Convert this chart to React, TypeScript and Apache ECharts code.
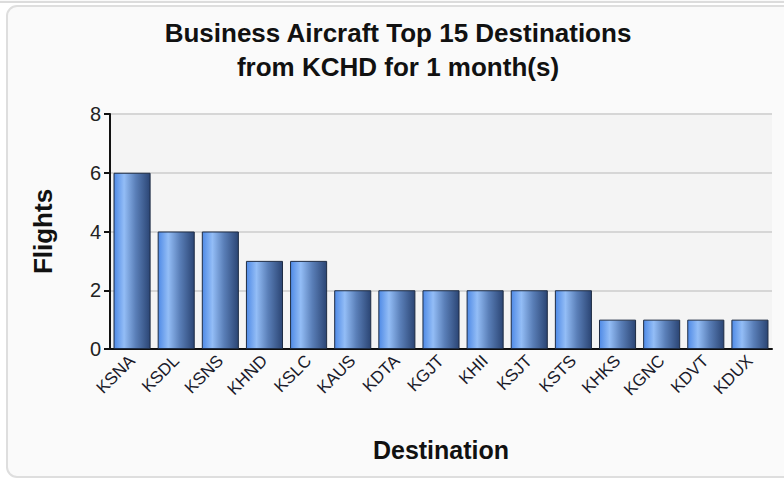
import React, { useEffect, useRef } from "react";
import * as echarts from "echarts";

const categories = ["KSNA", "KSDL", "KSNS", "KHND", "KSLC", "KAUS", "KDTA", "KGJT", "KHII", "KSJT", "KSTS", "KHKS", "KGNC", "KDVT", "KDUX"];
const flights = [6, 4, 4, 3, 3, 2, 2, 2, 2, 2, 2, 1, 1, 1, 1];
const yTicks = [0, 2, 4, 6, 8];

const titleLines = ["Business Aircraft Top 15 Destinations", "from KCHD for 1 month(s)"];
const FONT = "'Liberation Sans Narrow', 'Arial Narrow', 'Liberation Sans', Arial, sans-serif";

export default function App() {
  const ref = useRef<HTMLDivElement>(null);
  useEffect(() => {
    if (!ref.current) return;
    const chart = echarts.init(ref.current, undefined, { renderer: "svg" });
    const barGrad = new echarts.graphic.LinearGradient(0, 0, 1, 0, [
      { offset: 0, color: "#4f8ae6" },
      { offset: 0.28, color: "#93bdf6" },
      { offset: 0.6, color: "#5a7fb8" },
      { offset: 1, color: "#2b4574" },
    ]);
    chart.setOption({
      animation: false,
      backgroundColor: "#ffffff",
      graphic: [
        { type: "rect", z: -10, shape: { x: -10, y: -30, width: 820, height: 32, r: 8 }, style: { fill: "#fafafa", stroke: "#dcdcdc", lineWidth: 2 } },
        { type: "rect", z: -10, shape: { x: 7, y: 6, width: 820, height: 471, r: 10 }, style: { fill: "#fafafa", stroke: "#dedede", lineWidth: 2 } },
        { type: "text", x: 398, y: 16, style: { text: titleLines.join("\n"), font: `bold 26px ${FONT}`, fill: "#111", textAlign: "center", lineHeight: 34 } },
      ],
      grid: { left: 110, right: 12, top: 114, bottom: 132, show: true, backgroundColor: "#f4f4f4", borderWidth: 0 },
      xAxis: {
        type: "category",
        data: categories,
        name: "Destination",
        nameLocation: "middle",
        nameGap: 88,
        nameTextStyle: { fontFamily: FONT, fontWeight: "bold", fontSize: 25, color: "#111" },
        axisLine: { lineStyle: { color: "#111", width: 2 } },
        axisTick: { alignWithLabel: true, length: 6, lineStyle: { color: "#111", width: 2 } },
        axisLabel: { rotate: 45, fontFamily: FONT, fontSize: 17, color: "#1a1a2a", margin: 9, interval: 0 },
      },
      yAxis: {
        type: "value",
        min: 0,
        max: 8,
        interval: 2,
        name: "Flights",
        nameLocation: "middle",
        nameGap: 54,
        nameTextStyle: { fontFamily: FONT, fontWeight: "bold", fontSize: 26, color: "#111" },
        axisLine: { show: true, lineStyle: { color: "#111", width: 2 } },
        axisTick: { show: true, length: 6, lineStyle: { color: "#111", width: 2 } },
        axisLabel: { fontFamily: FONT, fontSize: 20, color: "#222", margin: 9, formatter: (v: number) => (yTicks.includes(v) ? String(v) : "") },
        splitLine: { lineStyle: { color: "#d6d6d6", width: 2 } },
      },
      series: [
        {
          type: "bar",
          data: flights,
          barCategoryGap: "16%",
          itemStyle: { color: barGrad, borderColor: "#1e2c44", borderWidth: 1 },
        },
      ],
    });
    return () => chart.dispose();
  }, []);
  return <div ref={ref} style={{ position: "absolute", left: 0, top: 0, width: 784, height: 481 }} />;
}
